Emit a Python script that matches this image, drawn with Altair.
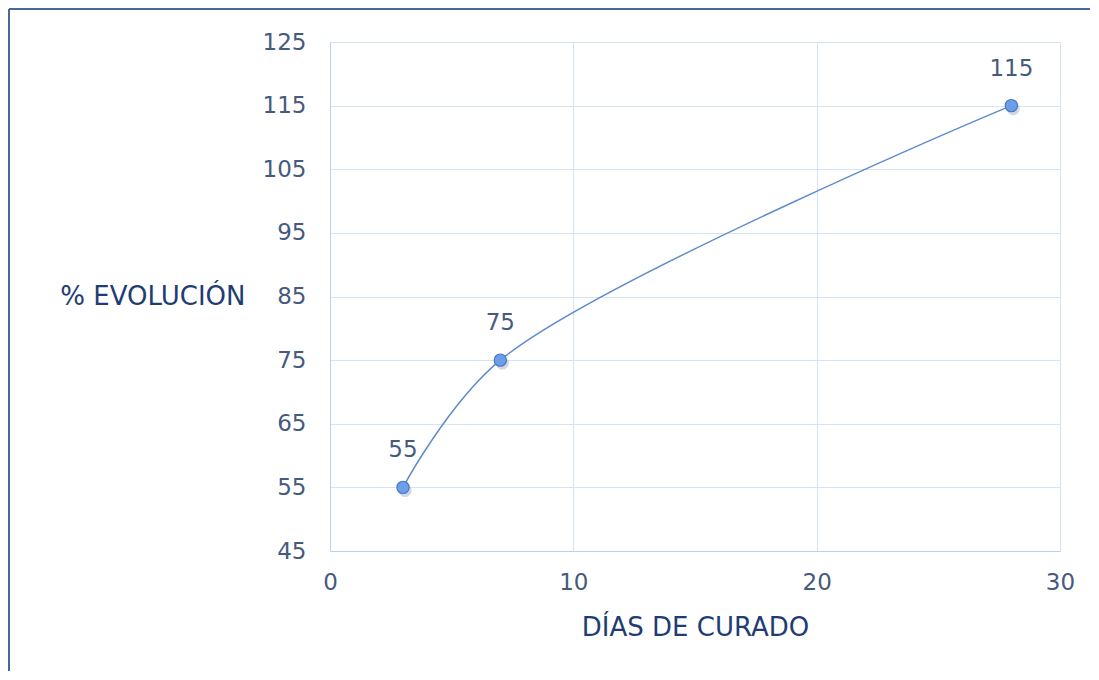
import altair as alt
import pandas as pd

dias = [3, 7, 28]
evolucion = [55, 75, 115]
x_ticks = [0, 10, 20, 30]
y_ticks = [45, 55, 65, 75, 85, 95, 105, 115, 125]

df = pd.DataFrame({"dias": dias, "evol": evolucion})

FONT = "DejaVu Sans"
LABEL_COLOR = "#465A7E"
TITLE_COLOR = "#1F3D73"
GRID = "#D6E3F3"

x_enc = alt.X("dias:Q", scale=alt.Scale(domain=[0, 30], nice=False),
              axis=alt.Axis(values=x_ticks, title="DÍAS DE CURADO", grid=True,
                            gridColor=GRID, domainColor="#BBD0EC", ticks=False,
                            labelFlush=False,
                            labelPadding=20, titlePadding=20, labelFontSize=23,
                            titleFontSize=26, labelColor=LABEL_COLOR,
                            titleColor=TITLE_COLOR, titleFontWeight="normal",
                            labelFont=FONT, titleFont=FONT))
y_enc = alt.Y("evol:Q", scale=alt.Scale(domain=[45, 125], nice=False),
              axis=alt.Axis(values=y_ticks, title="% EVOLUCIÓN", grid=True,
                            gridColor=GRID, domainColor="#BBD0EC", ticks=False,
                            labelFlush=False,
                            labelPadding=24, labelFontSize=23, titleFontSize=26,
                            labelColor=LABEL_COLOR, titleColor=TITLE_COLOR,
                            titleFontWeight="normal", titleAngle=0,
                            titleAlign="right", titleBaseline="middle",
                            titleX=-85, titleY=254, labelFont=FONT, titleFont=FONT))

line = alt.Chart(df).mark_line(interpolate="catmull-rom", color="#5F8CCB",
                               strokeWidth=1.5).encode(x=x_enc, y=y_enc)
shadow = alt.Chart(df).mark_circle(size=170, color="#9AA8BC", opacity=0.45,
                                   xOffset=2, yOffset=3).encode(x="dias:Q", y="evol:Q")
points = alt.Chart(df).mark_point(filled=True, size=150, fill="#6D9EEA",
                                  stroke="#4A78C0", strokeWidth=1.2,
                                  opacity=1).encode(x="dias:Q", y="evol:Q")
labels = alt.Chart(df).mark_text(dy=-37, fontSize=23, font=FONT,
                                 color=LABEL_COLOR).encode(
    x="dias:Q", y="evol:Q", text="evol:Q")

frame_top = alt.Chart(df).mark_rule(color="#4A679B", strokeWidth=2, clip=False).encode(
    x=alt.value(-321), x2=alt.value(800), y=alt.value(-33))
frame_left = alt.Chart(df).mark_rule(color="#4A679B", strokeWidth=2, clip=False).encode(
    x=alt.value(-321), y=alt.value(-33), y2=alt.value(700))

chart = alt.layer(frame_top, frame_left, line, shadow, points, labels).properties(
    width=730, height=509,
    padding={"left": 322, "top": 34, "right": 30, "bottom": 120},
    autosize=alt.AutoSizeParams(type="none"),
).configure_view(stroke=None).configure(background="white")

chart.save("out.html", embed_options={"renderer": "svg", "actions": False})
